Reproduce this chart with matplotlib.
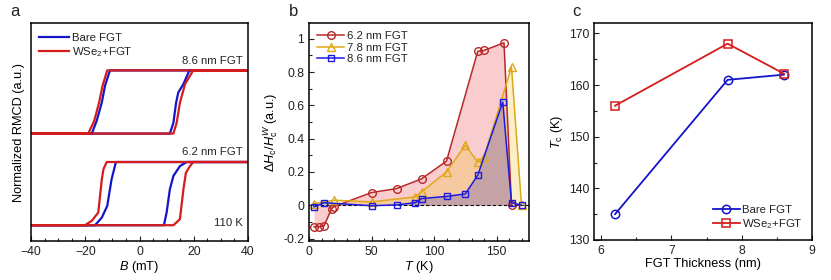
import matplotlib
matplotlib.use("Agg")
import matplotlib.pyplot as plt
from matplotlib.ticker import MultipleLocator

plt.rcParams['font.family'] = ['Liberation Sans', 'DejaVu Sans']
plt.rcParams['mathtext.fontset'] = 'custom'
plt.rcParams['mathtext.rm'] = 'Liberation Sans'
plt.rcParams['mathtext.it'] = 'Liberation Sans:italic'
plt.rcParams['mathtext.bf'] = 'Liberation Sans:bold'
plt.rcParams['text.color'] = '#222222'

# ---------------- Panel a: hysteresis loops (vertices, mT / normalized) ----------------
# 8.6 nm FGT, bare
bare86_B = [40, -10.9, -12.7, -13.9, -15.8, -17.6, -40, -40, 11.2, 12.5, 13.5, 14.3, 16.2, 18.4, 40]
bare86_M = [1, 1, 0.52, -0.02, -0.6, -1, -1, -1, -1, -0.66, -0.02, 0.3, 0.57, 1, 1]
# 8.6 nm FGT, WSe2+FGT
wse86_B = [40, -11.9, -13.6, -14.9, -16.7, -18.9, -40, -40, 12.5, 13.7, 14.9, 16.8, 19.8, 40]
wse86_M = [1, 1, 0.52, -0.02, -0.6, -1, -1, -1, -1, -0.66, -0.02, 0.57, 1, 1]
# 6.2 nm FGT, bare
bare62_B = [40, -8.7, -10.3, -11.9, -13.9, -16.4, -40, -40, 9.0, 10.0, 11.2, 12.5, 14.9, 17.4, 40]
bare62_M = [1, 1, 0.45, -0.39, -0.76, -1, -1, -1, -1, -0.6, 0.14, 0.56, 0.87, 1, 1]
# 6.2 nm FGT, WSe2+FGT
wse62_B = [40, -12.1, -13.3, -13.9, -15.2, -17.6, -20.1, -40, -40, 12.5, 14.9, 16.2, 17.1, 18.6, 19.8, 40]
wse62_M = [1, 1, 0.77, 0.45, -0.6, -0.86, -1, -1, -1, -1, -0.81, 0.14, 0.66, 0.87, 1, 1]
loop_offsets = [2.9, 0.0]  # 8.6 nm (top), 6.2 nm (bottom)

# ---------------- Panel b ----------------
T62 = [4, 8, 12, 18, 20, 50, 70, 90, 110, 135, 140, 156, 162]
dH62 = [-0.13, -0.13, -0.125, -0.022, -0.008, 0.076, 0.10, 0.158, 0.265, 0.925, 0.93, 0.976, 0.0]
T78 = [4, 20, 50, 85, 90, 110, 125, 135, 140, 162, 170]
dH78 = [0.01, 0.03, 0.02, 0.05, 0.08, 0.20, 0.36, 0.26, 0.29, 0.83, 0.0]
T86 = [4, 12, 50, 70, 85, 90, 110, 125, 135, 155, 162, 170]
dH86 = [-0.01, 0.015, -0.003, 0.002, 0.015, 0.04, 0.053, 0.068, 0.18, 0.62, 0.015, 0.0]

# ---------------- Panel c ----------------
thick = [6.2, 7.8, 8.6]
Tc_bare = [135, 161, 162]
Tc_wse = [156, 168, 162.2]

BLUE = '#1414c8'
RED = '#d41c1c'

fig = plt.figure(figsize=(8.31, 2.8), dpi=100)
W, H = 831, 280

def add_ax(l, r, t, b):
    return fig.add_axes([l / W, 1 - b / H, (r - l) / W, (b - t) / H])

def style(ax):
    ax.tick_params(which='both', direction='in', labelsize=8.8, colors='#222222')
    ax.tick_params(which='major', length=3.5, width=0.8)
    ax.tick_params(which='minor', length=2, width=0.8)
    for s in ax.spines.values():
        s.set_linewidth(1.1)

# Panel a
axa = add_ax(31, 248, 23, 241)
for off, (bB, bM, rB, rM) in zip(loop_offsets,
                                 [(bare86_B, bare86_M, wse86_B, wse86_M),
                                  (bare62_B, bare62_M, wse62_B, wse62_M)]):
    axa.plot(bB, [m + off for m in bM], color=BLUE, lw=1.6, label='Bare FGT' if off == loop_offsets[0] else None)
    axa.plot(rB, [m + off for m in rM], color=RED, lw=1.6, label='WSe$_2$+FGT' if off == loop_offsets[0] else None)
axa.set_xlim(-40, 40)
axa.set_ylim(-1.5, 5.4)
axa.set_yticks([])
axa.xaxis.set_major_locator(MultipleLocator(20))
axa.xaxis.set_minor_locator(MultipleLocator(5))
style(axa)
axa.set_xlabel('$B$ (mT)', fontsize=9.2, labelpad=1)
axa.set_ylabel('Normalized RMCD (a.u.)', fontsize=9.2, labelpad=4)
axa.text(38, 4.05, '8.6 nm FGT', ha='right', va='bottom', fontsize=8.2)
axa.text(38, 1.15, '6.2 nm FGT', ha='right', va='bottom', fontsize=8.2)
axa.text(38, -1.1, '110 K', ha='right', va='bottom', fontsize=8.2)
axa.legend(loc='upper left', frameon=False, fontsize=8.2, handlelength=2.6, handletextpad=0.3,
           borderaxespad=0.3, labelspacing=0.2, bbox_to_anchor=(0.0, 0.99))
fig.text(10 / W, 1 - 12 / H, 'a', fontsize=12, va='center', ha='left')

# Panel b
axb = add_ax(309, 529, 23, 241)
C62, C78, C86 = '#b82828', '#e0a818', '#1a1ae0'
axb.fill_between(T62, dH62, 0, color='#e83838', alpha=0.25, lw=0)
axb.fill_between(T78, dH78, 0, color='#f0c020', alpha=0.25, lw=0)
axb.fill_between(T86, dH86, 0, color='#3030b8', alpha=0.25, lw=0)
axb.axhline(0, color='black', lw=0.8, ls=(0, (3, 2)))
axb.plot(T62, dH62, color=C62, marker='o', mfc='none', ms=5.5, mew=1.0, lw=1.1, label='6.2 nm FGT')
axb.plot(T78, dH78, color=C78, marker='^', mfc='none', ms=6, mew=1.0, lw=1.1, label='7.8 nm FGT')
axb.plot(T86, dH86, color=C86, marker='s', mfc='none', ms=4.5, mew=1.0, lw=1.1, label='8.6 nm FGT')
axb.set_xlim(0, 176)
axb.set_ylim(-0.215, 1.095)
axb.xaxis.set_major_locator(MultipleLocator(50))
axb.xaxis.set_minor_locator(MultipleLocator(10))
axb.yaxis.set_major_locator(MultipleLocator(0.2))
axb.yaxis.set_minor_locator(MultipleLocator(0.1))
axb.set_yticks([-0.2, 0, 0.2, 0.4, 0.6, 0.8, 1.0])
axb.set_yticklabels(['-0.2', '0', '0.2', '0.4', '0.6', '0.8', '1'])
style(axb)
axb.set_xlabel('$T$ (K)', fontsize=9.2, labelpad=1)
axb.set_ylabel('$\\Delta H_{\\rm c}/H_{\\rm c}^{W}$ (a.u.)', fontsize=9.2, labelpad=2)
axb.legend(loc='upper left', frameon=False, fontsize=8.2, handlelength=2.4, handletextpad=0.2,
           borderaxespad=0.3, labelspacing=0.15)
fig.text(289 / W, 1 - 12 / H, 'b', fontsize=12, va='center', ha='left')

# Panel c
axc = add_ax(594, 812, 23, 240)
axc.plot(thick, Tc_bare, color=BLUE, marker='o', mfc='none', ms=6, mew=1.1, lw=1.3, label='Bare FGT')
axc.plot(thick, Tc_wse, color=RED, marker='s', mfc='none', ms=5.5, mew=1.1, lw=1.3, label='WSe$_2$+FGT')
axc.set_xlim(5.9, 9)
axc.set_ylim(130, 172)
axc.xaxis.set_major_locator(MultipleLocator(1))
axc.xaxis.set_minor_locator(MultipleLocator(0.5))
axc.yaxis.set_major_locator(MultipleLocator(10))
axc.yaxis.set_minor_locator(MultipleLocator(5))
style(axc)
axc.set_xlabel('FGT Thickness (nm)', fontsize=9.2, labelpad=1)
axc.set_ylabel('$T_{\\rm c}$ (K)', fontsize=9.2, labelpad=3)
axc.legend(loc='lower right', frameon=False, fontsize=8.2, handlelength=2.4, handletextpad=0.2,
           borderaxespad=0.4, labelspacing=0.15)
fig.text(572 / W, 1 - 12 / H, 'c', fontsize=12, va='center', ha='left')

fig.savefig('out.png', dpi=100)
